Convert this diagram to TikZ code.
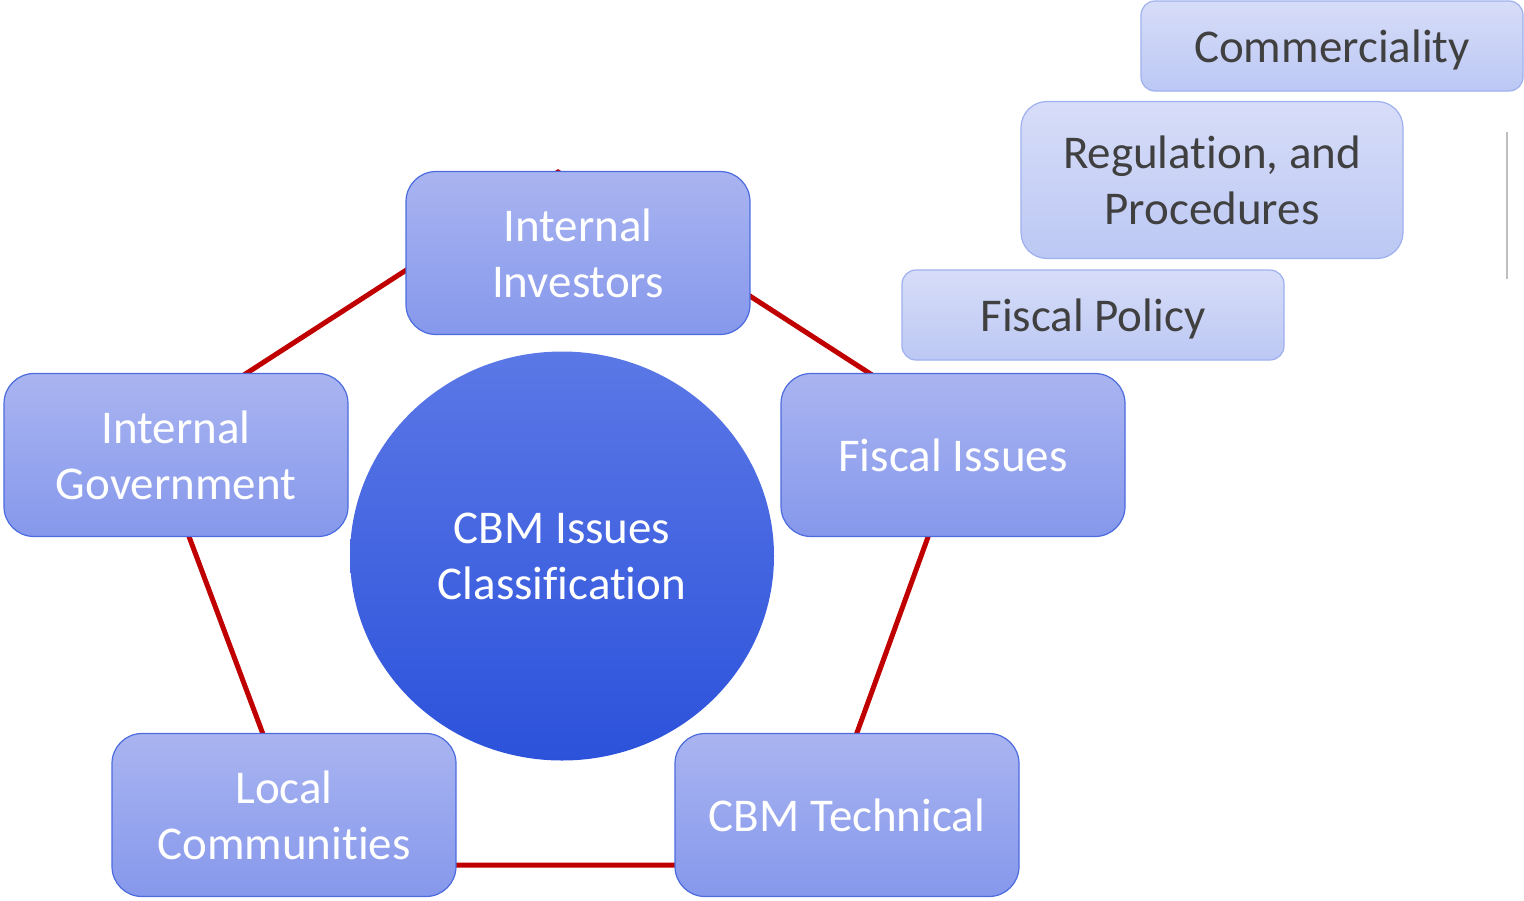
\documentclass[tikz,border=0pt]{standalone}
\usepackage{fontspec}
\setmainfont[RawFeature={-liga;-clig;-dlig;-calt}]{Carlito}
\usetikzlibrary{shapes.geometric}
\definecolor{ringred}{HTML}{C00000}
\definecolor{boxtop}{HTML}{A9B4F0}
\definecolor{boxbot}{HTML}{8698EC}
\definecolor{boxline}{HTML}{4B6BDE}
\definecolor{sidetop}{HTML}{D7DDF8}
\definecolor{sidebot}{HTML}{BCC8F4}
\definecolor{sideline}{HTML}{9FB0EE}
\definecolor{hubtop}{HTML}{5B78E6}
\definecolor{hubbot}{HTML}{2C52DB}
\definecolor{sidetext}{HTML}{404040}
\tikzset{
  issuebox/.style={rectangle, rounded corners=15pt, draw=boxline, line width=0.6pt,
    top color=boxtop, bottom color=boxbot, minimum width=172pt, minimum height=81.5pt,
    text=white, align=center, font=\fontsize{23.5}{28}\selectfont, inner sep=0pt},
  sidebox/.style={rectangle, draw=sideline, line width=0.6pt,
    top color=sidetop, bottom color=sidebot, minimum width=191pt,
    text=sidetext, align=center, font=\fontsize{23.5}{28}\selectfont, inner sep=0pt},
  hub/.style={ellipse, top color=hubtop, bottom color=hubbot, minimum width=212pt,
    minimum height=204.5pt, text=white, align=center, font=\fontsize{23.5}{28}\selectfont,
    inner sep=0pt},
  ring/.style={draw=ringred, line width=2.5pt}
}

\begin{document}
\begin{tikzpicture}[x=0.5pt,y=-0.5pt]
\useasboundingbox (0,0) rectangle (1524,900);
\coordinate (p1) at (558,172);
\coordinate (p2) at (965,435);
\coordinate (p3) at (809,865);
\coordinate (p4) at (312,865);
\coordinate (p5) at (151,435);
\draw[ring] (p1) -- (p2) -- (p3) -- (p4) -- (p5) -- cycle;
\node[hub] (hubnode) at (562,556) {CBM Issues\\Classification};
\node[issuebox] (investors) at (578,253) {Internal\\Investors};
\node[issuebox] (government) at (176,455) {Internal\\Government};
\node[issuebox] (fiscal) at (953,455) {Fiscal Issues};
\node[issuebox] (communities) at (284,815) {Local\\Communities};
\node[issuebox] (technical) at (847,815) {CBM Technical};
\node[sidebox, minimum height=45pt, rounded corners=7pt, text depth=0pt] (commercial) at (1332,46) {Commerciality};
\node[sidebox, minimum height=78.5pt, rounded corners=13pt] (regulation) at (1212,180) {Regulation, and\\Procedures};
\node[sidebox, minimum height=45pt, rounded corners=7pt, text depth=0pt] (policy) at (1093,315) {Fiscal Policy};
\draw[draw=black!25, line width=1pt] (1507,132) -- (1507,279);
\end{tikzpicture}
\end{document}
